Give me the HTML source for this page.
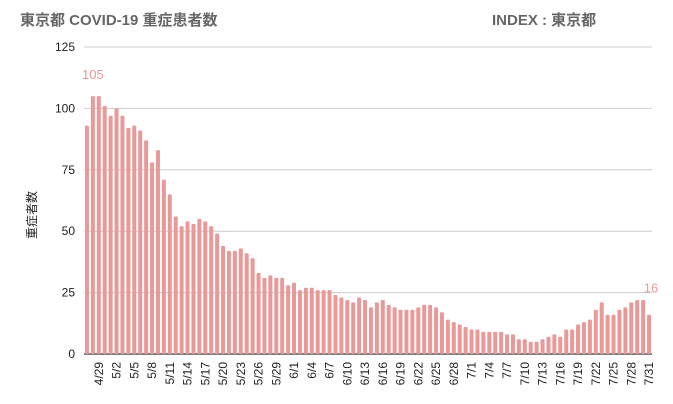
<!DOCTYPE html>
<html><head><meta charset="utf-8"><style>
body{margin:0;background:#fff;width:673px;height:404px;overflow:hidden;font-family:"Liberation Sans","Noto Sans CJK JP",sans-serif}
</style></head><body>
<svg width="673" height="404" style="position:absolute;left:0;top:0">
<text x="20" y="25" font-size="15" font-weight="bold" fill="#666">東京都 COVID-19 重症患者数</text>
<text x="492" y="25" font-size="15" font-weight="bold" fill="#666">INDEX : 東京都</text>
<text transform="translate(36,215) rotate(-90)" text-anchor="middle" font-size="12" fill="#222">重症者数</text>
<g id="grid"></g><g id="bars"></g><g id="xl"></g>
</svg>
<script>
const values=[93,105,105,101,
97,100,97,92,93,91,87,78,83,71,65,56,52,54,53,55,54,52,49,44,42,42,43,41,39,33,31,32,31,31,28,
29,26,27,27,26,26,26,24,23,22,21,23,22,19,21,22,20,19,18,18,18,19,20,20,19,17,14,13,12,11,
10,10,9,9,9,9,8,8,6,6,5,5,6,7,8,7,10,10,12,13,14,18,21,16,16,18,19,21,22,22,16];
const yTicks=[0,25,50,75,100,125];
const startDate=[4,27];
const ns="http://www.w3.org/2000/svg";
const x0=84,x1=652,y0=354,yTop=47,yMax=125;
const n=values.length,step=(x1-x0)/n;
const Y=v=>y0-(v/yMax)*(y0-yTop);
const X=i=>x0+step*(i+0.5);
const grid=document.getElementById('grid'),bars=document.getElementById('bars'),xl=document.getElementById('xl');
function mk(t,a,p){const e=document.createElementNS(ns,t);for(const k in a)e.setAttribute(k,a[k]);p.appendChild(e);return e;}
yTicks.forEach(t=>{
 const l=mk('line',{x1:x0,x2:x1,y1:Y(t),y2:Y(t),stroke:t?'#ccc':'#555','stroke-width':t?1:1.5},grid);
 
 
 const tx=mk('text',{x:75,y:Y(t)+4,'text-anchor':'end','font-size':12,fill:'#222'},grid);tx.textContent=t;
 
 
});
const dim=[0,31,29,31,30,31,30,31,31];
let m=startDate[0],d=startDate[1];
values.forEach((v,i)=>{
 const r=mk('rect',{x:X(i)-2,y:Y(v),width:4,height:y0-Y(v),fill:'#ea9999',rx:1},bars);
 
 
 if(i%3===2){
  const t=mk('text',{transform:`translate(${X(i)+4},362) rotate(-90)`,'text-anchor':'end','font-size':12,fill:'#222'},xl);
  t.textContent=m+'/'+d;
  
  
 }
 d++;if(d>dim[m]){d=1;m++;}
});
const maxI=values.indexOf(Math.max(...values));
const a=mk('text',{x:X(maxI),y:Y(values[maxI])-17,'text-anchor':'middle','font-size':13,fill:'#ea9999'},xl);
a.textContent=values[maxI];


const b=mk('text',{x:X(n-1)+2,y:Y(values[n-1])-22,'text-anchor':'middle','font-size':13,fill:'#ea9999'},xl);
b.textContent=values[n-1];


</script>
</body></html>
